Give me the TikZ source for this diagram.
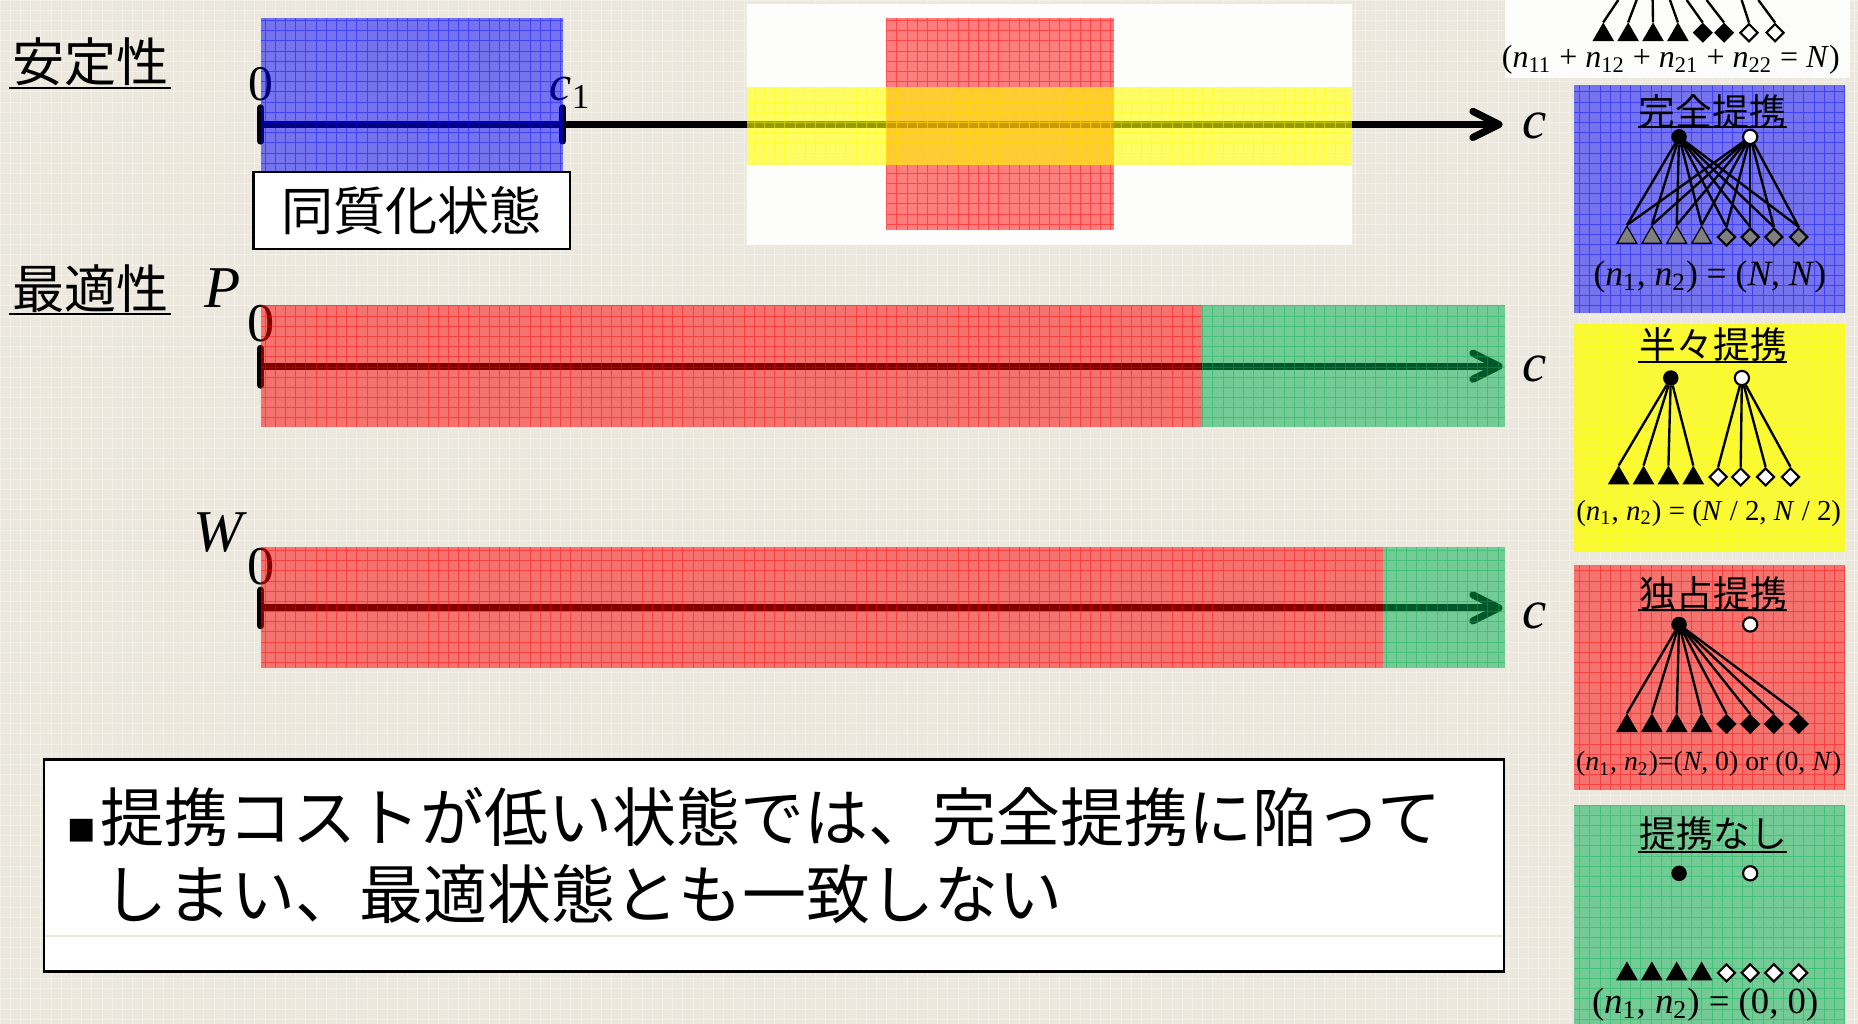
\documentclass[tikz,border=0pt]{standalone}
\usepackage{fontspec}
\setmainfont{Liberation Serif}
\newfontfamily\jp{Noto Sans CJK JP}
\usetikzlibrary{arrows.meta,shapes.geometric}
\definecolor{bgc}{RGB}{236,232,222}
\definecolor{cblue}{RGB}{0,0,255}
\definecolor{cred}{RGB}{255,0,0}
\definecolor{cgreen}{RGB}{0,176,80}
\definecolor{cyel}{RGB}{255,255,0}
\newcommand\fsz[1]{\fontsize{#1}{#1}\selectfont}
\newcommand\nn[1]{\textit{n}\textsubscript{#1}}
\newcommand\NN{\textit{N}}
% color, opacity, x1, y1(top), x2, y2(bottom)
\newcommand\gridfill[6]{%
  \fill[#1,opacity=#2] (#3,#4) rectangle (#5,#6);
  \begin{scope}
    \clip (#3,#4) rectangle (#5,#6);
    \draw[#1,opacity=0.45,line width=0.3pt,step=4.3pt] (#3,#6) grid (#5,#4);
  \end{scope}}
\begin{document}
\begin{tikzpicture}[x=0.5pt,y=-0.5pt,
  lbl/.style={inner sep=0pt,outer sep=0pt},
  num/.style={lbl,font=\fsz{23pt}},
  numa/.style={lbl,font=\fsz{21pt}},
  var/.style={lbl,font=\fsz{25pt}\itshape},
  clab/.style={lbl,font=\fsz{23pt}\itshape,anchor=base west},
  jlab/.style={lbl,font=\jp\fsz{22pt}},
  ptitle/.style={lbl,font=\jp\fsz{15.5pt}},
  uline/.style={line width=1pt},
  form/.style={lbl,font=\fsz{#1}},
  axl/.style={line width=3pt,line cap=round},
  arr/.style={axl,-{Straight Barb[length=11pt,width=11pt,round]}},
  blk/.style={circle,fill=black,draw=black,line width=0.5pt,minimum size=6pt,inner sep=0pt},
  wht/.style={circle,fill=white,draw=black,line width=0.9pt,minimum size=6pt,inner sep=0pt},
  tri/.style={regular polygon,regular polygon sides=3,draw=black,line width=0.5pt,minimum size=9.6pt,inner sep=0pt,fill=#1},
  dia/.style={diamond,draw=black,line width=0.9pt,minimum size=7.6pt,inner sep=0pt,fill=#1},
  link/.style={line width=1pt},
  hbox/.style={draw=black,fill=white,line width=1pt,inner sep=0pt}
]
\useasboundingbox (0,0) rectangle (1568,864);
\fill[bgc] (0,0) rectangle (1568,864);
\draw[white,opacity=0.35,line width=0.3pt,step=4.3pt] (0,864) grid (1568,0);

% ---------------- stability row
\fill[white,opacity=0.92] (630,3) rectangle (1141,207);
\node[jlab] (stab) at (76.5,52) {安定性};
\draw[uline] (8,74) -- (144,74);
\node[numa] (z1) at (220,71) {0};
\node[lbl,font=\fsz{21pt},anchor=base west] (c1) at (464,85) {\textit{c}\textsubscript{1}};
\coordinate (a1s) at (220,105);
\coordinate (a1e) at (1268,105);
\draw[arr] (a1s) -- (a1e);
\draw[axl] (220,91) -- (220,119);
\draw[axl] (475,91) -- (475,119);
\gridfill{cblue}{0.5}{220}{15}{475}{150}
\gridfill{cred}{0.5}{748}{15}{940}{194}
\gridfill{cyel}{0.6}{630}{73}{1141}{139}
\node[hbox,minimum width=133.5pt,minimum height=32.5pt,font=\jp\fsz{22pt}] (hom) at (347.5,177.5) {同質化状態};
\node[clab] (cA) at (1285,117) {c};

% ---------------- P row
\node[jlab] (opt) at (76.5,243.5) {最適性};
\draw[uline] (8,265) -- (144,265);
\node[var] (P) at (188,243) {P};
\node[num] (z2) at (220,273.5) {0};
\coordinate (a2s) at (220,309);
\coordinate (a2e) at (1268,309);
\draw[arr] (a2s) -- (a2e);
\draw[axl] (220,294) -- (220,325);
\gridfill{cred}{0.5}{220}{257}{1014}{360}
\gridfill{cgreen}{0.5}{1014}{257}{1270}{360}
\node[clab] (cB) at (1285,322) {c};

% ---------------- W row
\node[var] (W) at (184,449) {W};
\node[num] (z3) at (220,478.5) {0};
\coordinate (a3s) at (220,513);
\coordinate (a3e) at (1268,513);
\draw[arr] (a3s) -- (a3e);
\draw[axl] (220,498) -- (220,528);
\gridfill{cred}{0.5}{220}{462}{1167}{564}
\gridfill{cgreen}{0.5}{1167}{462}{1270}{564}
\node[clab] (cC) at (1285,530) {c};

% ---------------- caption
\node[hbox,minimum width=616pt,minimum height=89.5pt] (cap) at (653,730.5) {};
\draw[bgc,line width=0.6pt] (38,790) -- (1268,790);
\node[lbl,font=\jp\fsz{27pt},anchor=base west] (l1) at (57,710) {{\fsz{12pt}■}\hspace{2pt}提携コストが低い状態では、完全提携に陥って};
\node[lbl,font=\jp\fsz{27pt},anchor=base west] (l2) at (87,775) {しまい、最適状態とも一致しない};

% ---------------- right panels
\fill[white,opacity=0.88] (1270,0) rectangle (1561,66);
\gridfill{cblue}{0.5}{1328}{72}{1557}{264}
\gridfill{cyel}{0.75}{1328}{273}{1557}{466}
\gridfill{cred}{0.5}{1328}{477}{1557}{667}
\gridfill{cgreen}{0.5}{1328}{679}{1557}{870}

% top partial tree
\foreach \i/\x in {1/1353,2/1374,3/1395,4/1416}{\node[tri=black] (t0\i) at (\x,29.5) {};}
\node[dia=black] (d01) at (1437,27.6) {};
\node[dia=black] (d02) at (1455,27.6) {};
\node[dia=white] (d03) at (1476,27.6) {};
\node[dia=white] (d04) at (1498,27.6) {};
\coordinate (u1) at (1365.7,0);
\coordinate (u2) at (1381.2,0);
\coordinate (u3) at (1394.7,0);
\coordinate (u4) at (1409.3,0);
\coordinate (u5) at (1423.4,0);
\coordinate (u6) at (1440.2,0);
\coordinate (u7) at (1469.8,0);
\coordinate (u8) at (1483.9,0);
\foreach \i in {1,...,4}{\draw[link] (u\i) -- (t0\i.corner 1);}
\draw[link] (u5) -- (d01.north);
\draw[link] (u6) -- (d02.north);
\draw[link] (u7) -- (d03.north);
\draw[link] (u8) -- (d04.north);
\node[form=13.5pt] (f0) at (1410,50.5) {(\nn{11} + \nn{12} + \nn{21} + \nn{22} = \NN)};

% blue: full alliance
\node[ptitle] (hA) at (1445,94) {完全提携};
\draw[uline] (1382,107) -- (1508,107);
\node[blk] (bA) at (1417,115.5) {};
\node[wht] (wA) at (1477,115.5) {};
\foreach \i/\x in {1/1373,2/1394,3/1415,4/1436}{\node[tri=gray] (tA\i) at (\x,200.5) {};}
\foreach \i/\x in {1/1457,2/1477,3/1497,4/1518}{\node[dia=gray] (dA\i) at (\x,200) {};}
\foreach \s in {bA,wA}{\foreach \i in {1,...,4}{\draw[link] (\s) -- (tA\i.corner 1); \draw[link] (\s) -- (dA\i.north);}}
\node[form=15pt] (fA) at (1443,233.5) {(\nn{1}, \nn{2}) = (\NN, \NN)};

% yellow: half alliance
\node[ptitle] (hB) at (1446,291) {半々提携};
\draw[uline] (1382,305.5) -- (1508,305.5);
\node[blk] (bB) at (1410,319) {};
\node[wht] (wB) at (1470,319) {};
\foreach \i/\x in {1/1366,2/1387,3/1408,4/1429}{\node[tri=black] (tB\i) at (\x,403.5) {};}
\foreach \i/\x in {1/1450,2/1469,3/1490,4/1511}{\node[dia=white] (dB\i) at (\x,402.5) {};}
\foreach \i in {1,...,4}{\draw[link] (bB) -- (tB\i.corner 1); \draw[link] (wB) -- (dB\i.north);}
\node[form=12.2pt] (fB) at (1442,433) {(\nn{1}, \nn{2}) = (\NN\ / 2, \NN\ / 2)};

% red: monopoly alliance
\node[ptitle] (hC) at (1446,501) {独占提携};
\draw[uline] (1382,515) -- (1508,515);
\node[blk] (bC) at (1417,527) {};
\node[wht] (wC) at (1477,527) {};
\foreach \i/\x in {1/1373,2/1394,3/1415,4/1436}{\node[tri=black] (tC\i) at (\x,612.5) {};}
\foreach \i/\x in {1/1457,2/1477,3/1497,4/1518}{\node[dia=black] (dC\i) at (\x,611) {};}
\foreach \i in {1,...,4}{\draw[link] (bC) -- (tC\i.corner 1); \draw[link] (bC) -- (dC\i.north);}
\node[form=11.7pt] (fC) at (1442,645) {(\nn{1}, \nn{2})=(\NN, 0) or (0, \NN)};

% green: no alliance
\node[ptitle] (hD) at (1446,703.5) {提携なし};
\draw[uline] (1382,719) -- (1508,719);
\node[blk] (bD) at (1417,737) {};
\node[wht] (wD) at (1477,737) {};
\foreach \i/\x in {1/1373,2/1394,3/1415,4/1436}{\node[tri=black] (tD\i) at (\x,822) {};}
\foreach \i/\x in {1/1457,2/1477,3/1497,4/1518}{\node[dia=white] (dD\i) at (\x,821) {};}
\node[form=15.5pt] (fD) at (1439,848) {(\nn{1}, \nn{2}) = (0, 0)};
\end{tikzpicture}
\end{document}
